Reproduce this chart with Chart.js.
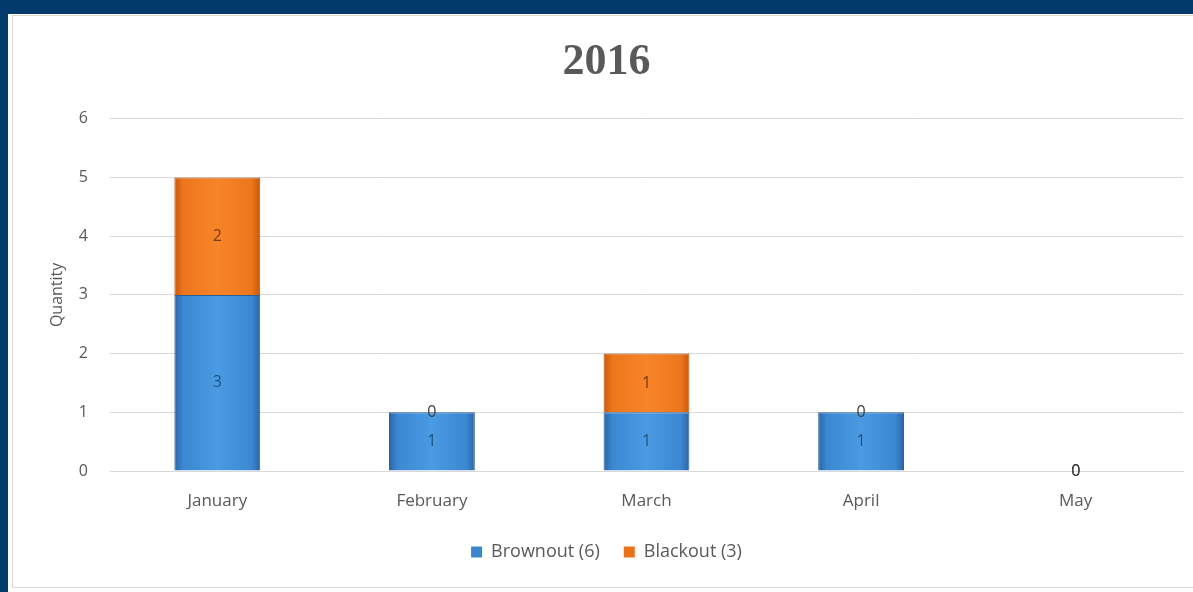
<!DOCTYPE html>
<html>
<head>
<meta charset="utf-8">
<script src="https://cdn.jsdelivr.net/npm/chart.js@4.4.0/dist/chart.umd.min.js"></script>
<style>
  body { margin: 0; background: #033a6c; width: 1193px; height: 592px; overflow: hidden; position: relative; }
  #panel { position: absolute; left: 8px; top: 14px; width: 1185px; height: 578px; background: #fff; }
  #frame { position: absolute; left: 4px; top: 1px; width: 1190px; height: 571px; border: 1px solid #d9d9d9; }
  #chart { position: absolute; left: 0; top: 0; }
</style>
</head>
<body>
<div id="panel"><div id="frame"></div></div>
<canvas id="chart" width="1193" height="592"></canvas>
<script>
var months = ['January', 'February', 'March', 'April', 'May'];
var brownout = [3, 1, 1, 1, 0];
var blackout = [2, 0, 1, 0, 0];
var yTicks = [0, 1, 2, 3, 4, 5, 6];

function total(arr) {
    return arr.reduce(function(a, b) { return a + b; }, 0);
}

// horizontal shading for each bar, edges darker like the excel bevel
function barFill(dark, light, solid) {
    return function(ctx) {
        var chart = ctx.chart;
        var xs = chart.scales.x;
        if (!chart.chartArea || !xs || ctx.dataIndex === undefined) return solid;
        var cx = xs.getPixelForValue(ctx.dataIndex);
        var w = (xs.width / months.length) * 0.4;
        var g = chart.ctx.createLinearGradient(cx - w / 2, 0, cx + w / 2, 0);
        g.addColorStop(0, dark);
        g.addColorStop(0.1, solid);
        g.addColorStop(0.5, light);
        g.addColorStop(0.9, solid);
        g.addColorStop(1, dark);
        return g;
    };
}

// value labels in the middle of each segment
var valueLabels = {
    id: 'valueLabels',
    afterDatasetsDraw: function(chart) {
        var c = chart.ctx;
        c.save();
        c.font = '16px "Open Sans"';
        c.textAlign = 'center';
        c.textBaseline = 'middle';
        chart.data.datasets.forEach(function(ds, i) {
            var meta = chart.getDatasetMeta(i);
            meta.data.forEach(function(bar, j) {
                var v = ds.data[j];
                var y = (bar.y + bar.base) / 2;
                c.fillStyle = v === 0 ? '#404040' : ds.labelColor;
                c.fillText(v, bar.x, y);
            });
        });
        c.restore();
    }
};

var ctx = document.getElementById('chart').getContext('2d');
new Chart(ctx, {
    type: 'bar',
    data: {
        labels: months,
        datasets: [{
            label: 'Brownout (' + total(brownout) + ')',
            data: brownout,
            backgroundColor: barFill('#2b66a3', '#4a9be3', '#3b87d2'),
            borderColor: '#2b5f95',
            borderWidth: 1,
            labelColor: '#23507d',
            barPercentage: 0.4,
            categoryPercentage: 1
        }, {
            label: 'Blackout (' + total(blackout) + ')',
            data: blackout,
            backgroundColor: barFill('#c9580c', '#f8842a', '#ec761c'),
            borderColor: '#b8520f',
            borderWidth: 1,
            labelColor: '#7a3a10',
            barPercentage: 0.4,
            categoryPercentage: 1
        }]
    },
    options: {
        responsive: false,
        animation: false,
        layout: { padding: { left: 30, right: 10, top: 0, bottom: 21 } },
        plugins: {
            title: {
                display: true,
                text: '2016',
                color: '#595959',
                font: { family: '"Liberation Serif"', size: 44, weight: 'bold' },
                padding: { top: 36, bottom: 30 }
            },
            legend: {
                position: 'bottom',
                labels: {
                    color: '#595959',
                    font: { family: '"Open Sans"', size: 18 },
                    boxWidth: 11,
                    boxHeight: 11,
                    padding: 24,
                    generateLabels: function(chart) {
                        var cols = ['#3a86cf', '#e8731d'];
                        return chart.data.datasets.map(function(ds, i) {
                            return {
                                text: ds.label,
                                fillStyle: cols[i],
                                strokeStyle: cols[i],
                                lineWidth: 0,
                                fontColor: '#595959',
                                datasetIndex: i
                            };
                        });
                    }
                }
            },
            tooltip: { enabled: false }
        },
        scales: {
            x: {
                stacked: true,
                grid: { display: false, drawTicks: false },
                border: { display: true, color: '#d9d9d9' },
                ticks: {
                    color: '#595959',
                    font: { family: '"Open Sans"', size: 17 },
                    padding: 20
                },
                afterFit: function(scale) { scale.height = 48; }
            },
            y: {
                stacked: true,
                min: 0,
                max: 6,
                afterBuildTicks: function(scale) {
                    scale.ticks = yTicks.map(function(v) { return { value: v }; });
                },
                grid: { color: '#d9d9d9', drawTicks: false },
                border: { display: false },
                ticks: {
                    color: '#595959',
                    font: { family: '"Open Sans"', size: 16 },
                    padding: 22
                },
                title: {
                    display: true,
                    text: 'Quantity',
                    color: '#595959',
                    font: { family: '"Open Sans"', size: 16 },
                    padding: { top: 18, bottom: 0 }
                },
                afterFit: function(scale) { scale.width = 80; }
            }
        }
    },
    plugins: [valueLabels]
});
</script>
</body>
</html>
